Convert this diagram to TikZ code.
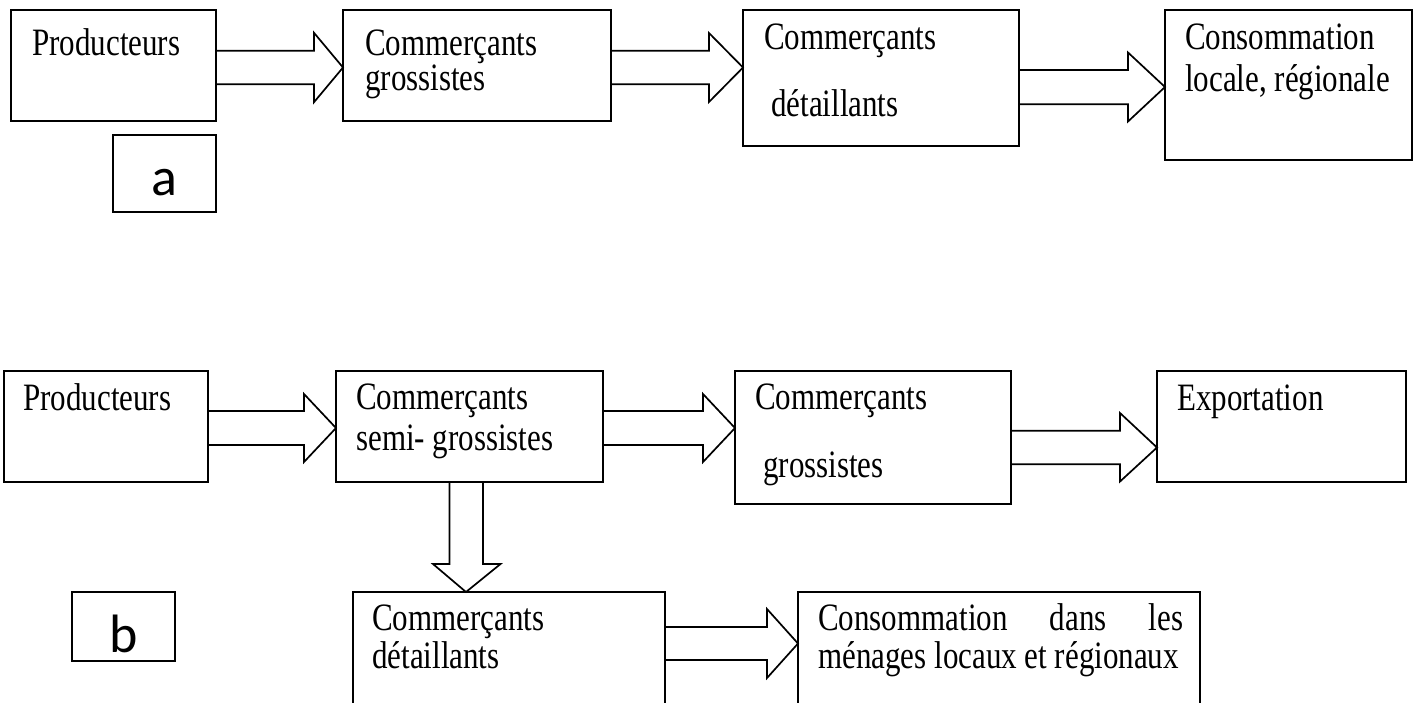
\documentclass[tikz,border=0pt]{standalone}
\usepackage{fontspec}
\setmainfont{Liberation Serif}
\newfontfamily\lblfont{Carlito}
\newcommand\tall[1]{\scalebox{1}[1.25]{#1}}
\tikzset{
  box/.style={draw, line width=1.7pt, anchor=north west, inner sep=0pt, outer sep=0pt},
  txt/.style={anchor=base west, inner sep=0pt, font=\fontsize{31}{31}\selectfont},
  lbl/.style={anchor=base, inner sep=0pt, font=\lblfont\fontsize{54}{54}\selectfont},
  blockarrow/.style={draw, line width=1.7pt, line join=miter, miter limit=10},
}
\begin{document}
\begin{tikzpicture}[x=1pt,y=-1pt]
\useasboundingbox (0,0) rectangle (1422,702);
\clip (0,0) rectangle (1422,702);
\fill[white] (0,0) rectangle (1422,702);
% ---------- diagram a ----------
\node[box, minimum width=205pt, minimum height=111pt] (P1) at (11,10) {};
\node[box, minimum width=268pt, minimum height=111pt] (CG1) at (343,10) {};
\node[box, minimum width=276pt, minimum height=136pt] (CD1) at (743,10) {};
\node[box, minimum width=247pt, minimum height=150pt] (C1) at (1165,10) {};
\node[box, minimum width=103pt, minimum height=77pt] (A) at (113,135) {};

\node[txt] (tP1) at (32,55) {\tall{Producteurs}};
\node[txt] (tCG1a) at (365,55) {\tall{Commerçants}};
\node[txt] (tCG1b) at (365,90) {\tall{grossistes}};
\node[txt] (tCD1a) at (764,49) {\tall{Commerçants}};
\node[txt] (tCD1b) at (771,116) {\tall{détaillants}};
\node[txt] (tC1a) at (1185,49) {\tall{Consommation}};
\node[txt] (tC1b) at (1185,91) {\tall{locale, régionale}};
\node[lbl] (la) at (164.5,195) {a};

\draw[blockarrow] (P1.east |- 0,50.7) -- (314,50.7) -- (314,32.8) -- (CG1.west |- 0,67.5)
  -- (314,102.2) -- (314,84.3) -- (P1.east |- 0,84.3);
\draw[blockarrow] (CG1.east |- 0,50.7) -- (709,50.7) -- (709,33) -- (CD1.west |- 0,67.5)
  -- (709,102) -- (709,84.3) -- (CG1.east |- 0,84.3);
\draw[blockarrow] (CD1.east |- 0,70) -- (1128,70) -- (1128,52.5) -- (C1.west |- 0,87)
  -- (1128,121.5) -- (1128,104.3) -- (CD1.east |- 0,104.3);

% ---------- diagram b ----------
\node[box, minimum width=204pt, minimum height=111pt] (P2) at (4,371) {};
\node[box, minimum width=267pt, minimum height=111pt] (SG) at (336,371) {};
\node[box, minimum width=276pt, minimum height=133pt] (CG2) at (735,371) {};
\node[box, minimum width=249pt, minimum height=111pt] (EX) at (1157,371) {};
\node[box, minimum width=103pt, minimum height=69pt] (B) at (72,592) {};
\node[box, minimum width=312pt, minimum height=114pt] (CD2) at (353,592) {};
\node[box, minimum width=402pt, minimum height=114pt] (C2) at (798,592) {};

\node[txt] (tP2) at (23,410) {\tall{Producteurs}};
\node[txt] (tSGa) at (356,409) {\tall{Commerçants}};
\node[txt] (tSGb) at (356,450) {\tall{semi- grossistes}};
\node[txt] (tCG2a) at (755,409) {\tall{Commerçants}};
\node[txt] (tCG2b) at (763,477) {\tall{grossistes}};
\node[txt] (tEX) at (1177,410) {\tall{Exportation}};
\node[txt] (tCD2a) at (372,630) {\tall{Commerçants}};
\node[txt] (tCD2b) at (372,668) {\tall{détaillants}};
\node[txt] (tC2a) at (818,630) {\tall{\hbox to 365pt{Consommation\hfill dans\hfill les}}};
\node[txt] (tC2b) at (818,668) {\tall{ménages locaux et régionaux}};
\node[lbl] (lb) at (123.5,652) {b};

\draw[blockarrow] (P2.east |- 0,411) -- (304,411) -- (304,394) -- (SG.west |- 0,428)
  -- (304,462) -- (304,445) -- (P2.east |- 0,445);
\draw[blockarrow] (SG.east |- 0,411) -- (703,411) -- (703,394) -- (CG2.west |- 0,428)
  -- (703,462) -- (703,445) -- (SG.east |- 0,445);
\draw[blockarrow] (CG2.east |- 0,430.7) -- (1120,430.7) -- (1120,413) -- (EX.west |- 0,447.5)
  -- (1120,481.5) -- (1120,464.3) -- (CG2.east |- 0,464.3);
\draw[blockarrow] (449.5,0 |- SG.south) -- (449.5,564) -- (433,564) -- (466,0 |- CD2.north)
  -- (500.5,564) -- (483,564) -- (483,0 |- SG.south);
\draw[blockarrow] (CD2.east |- 0,627) -- (767,627) -- (767,609) -- (C2.west |- 0,643.5)
  -- (767,678) -- (767,660) -- (CD2.east |- 0,660);
\end{tikzpicture}
\end{document}
